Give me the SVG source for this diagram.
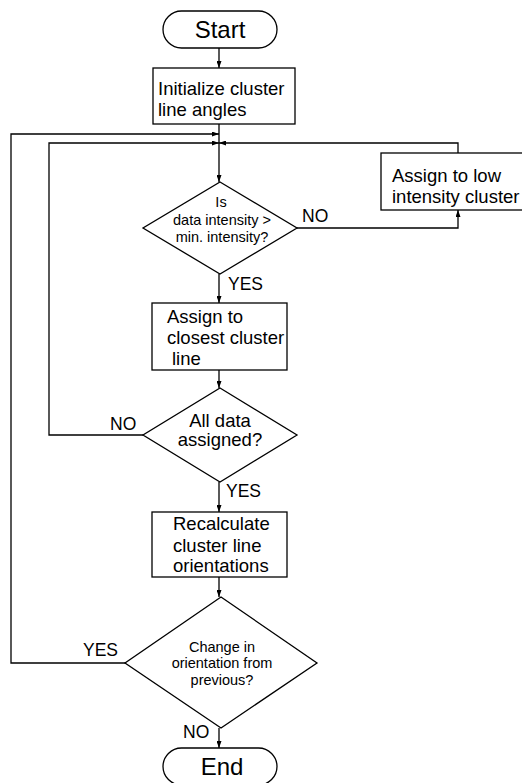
<svg xmlns="http://www.w3.org/2000/svg" width="522" height="783" viewBox="0 0 522 783">
<style>
.s{fill:#fff;stroke:#000;stroke-width:1.3}
.c{fill:none;stroke:#000;stroke-width:1.3}
text{font-family:"Liberation Sans",Arial,sans-serif;fill:#000}
.b{font-size:18.5px}
.d{font-size:14.5px}
.t{font-size:24px}
.l{font-size:17.5px}
</style>
<defs>
<marker id="a" viewBox="0 0 7 5" refX="7" refY="2.5" markerWidth="7" markerHeight="5" markerUnits="userSpaceOnUse" orient="auto">
<path d="M0,0L7,2.5L0,5z" fill="#000"/>
</marker>
</defs>
<rect width="522" height="783" fill="#fff"/>
<g id="connectors">
<line class="c" x1="219" y1="48" x2="219" y2="68" marker-end="url(#a)"/>
<line class="c" x1="219" y1="124" x2="219" y2="182" marker-end="url(#a)"/>
<polyline class="c" points="125,663 11,663 11,134 219,134" marker-end="url(#a)"/>
<polyline class="c" points="143,435 49,435 49,143 219,143" marker-end="url(#a)"/>
<polyline class="c" points="458,153 458,143 219,143" marker-end="url(#a)"/>
<polyline class="c" points="297,228 458,228 458,210" marker-end="url(#a)"/>
<line class="c" x1="219" y1="274" x2="219" y2="303" marker-end="url(#a)"/>
<line class="c" x1="219" y1="370" x2="219" y2="388" marker-end="url(#a)"/>
<line class="c" x1="219" y1="482" x2="219" y2="512" marker-end="url(#a)"/>
<line class="c" x1="219" y1="577" x2="219" y2="597" marker-end="url(#a)"/>
<line class="c" x1="219" y1="728" x2="219" y2="748" marker-end="url(#a)"/>
<text class="l" x="302" y="222">NO</text>
<text class="l" x="228" y="290">YES</text>
<text class="l" x="110" y="430">NO</text>
<text class="l" x="226" y="497">YES</text>
<text class="l" x="83" y="656">YES</text>
<text class="l" x="183" y="738">NO</text>
</g>
<g id="start">
<rect class="s" x="163" y="11" width="114" height="37" rx="18.5"/>
<text class="t" x="220" y="38" text-anchor="middle">Start</text>
</g>
<g id="init">
<rect class="s" x="153" y="68" width="142" height="56"/>
<text class="b" x="158" y="95">Initialize cluster</text>
<text class="b" x="158" y="116">line angles</text>
</g>
<g id="low">
<rect class="s" x="381" y="153" width="145" height="57"/>
<text class="b" x="392" y="182">Assign to low</text>
<text class="b" x="392" y="203">intensity cluster</text>
</g>
<g id="check-intensity">
<polygon class="s" points="220,182 297,228 220,274 143,228"/>
<text class="d" x="221" y="207" text-anchor="middle">Is</text>
<text class="d" x="222" y="225" text-anchor="middle">data intensity &gt;</text>
<text class="d" x="222" y="242" text-anchor="middle">min. intensity?</text>
</g>
<g id="closest">
<rect class="s" x="152" y="303" width="135" height="67"/>
<text class="b" x="167" y="323">Assign to</text>
<text class="b" x="167" y="344">closest cluster</text>
<text class="b" x="172" y="365">line</text>
</g>
<g id="all-assigned">
<polygon class="s" points="220,388 297,435 220,482 143,435"/>
<text class="b" x="220" y="427" text-anchor="middle">All data</text>
<text class="b" x="220" y="446" text-anchor="middle">assigned?</text>
</g>
<g id="recalc">
<rect class="s" x="152" y="512" width="135" height="65"/>
<text class="b" x="173" y="530">Recalculate</text>
<text class="b" x="173" y="552">cluster line</text>
<text class="b" x="173" y="572">orientations</text>
</g>
<g id="change">
<polygon class="s" points="221,597 317,663 221,728 125,663"/>
<text class="d" x="222" y="652" text-anchor="middle">Change in</text>
<text class="d" x="222" y="668" text-anchor="middle">orientation from</text>
<text class="d" x="222" y="685" text-anchor="middle">previous?</text>
</g>
<g id="end">
<rect class="s" x="163" y="748" width="114" height="37" rx="18.5"/>
<text class="t" x="222" y="775" text-anchor="middle">End</text>
</g>
</svg>
